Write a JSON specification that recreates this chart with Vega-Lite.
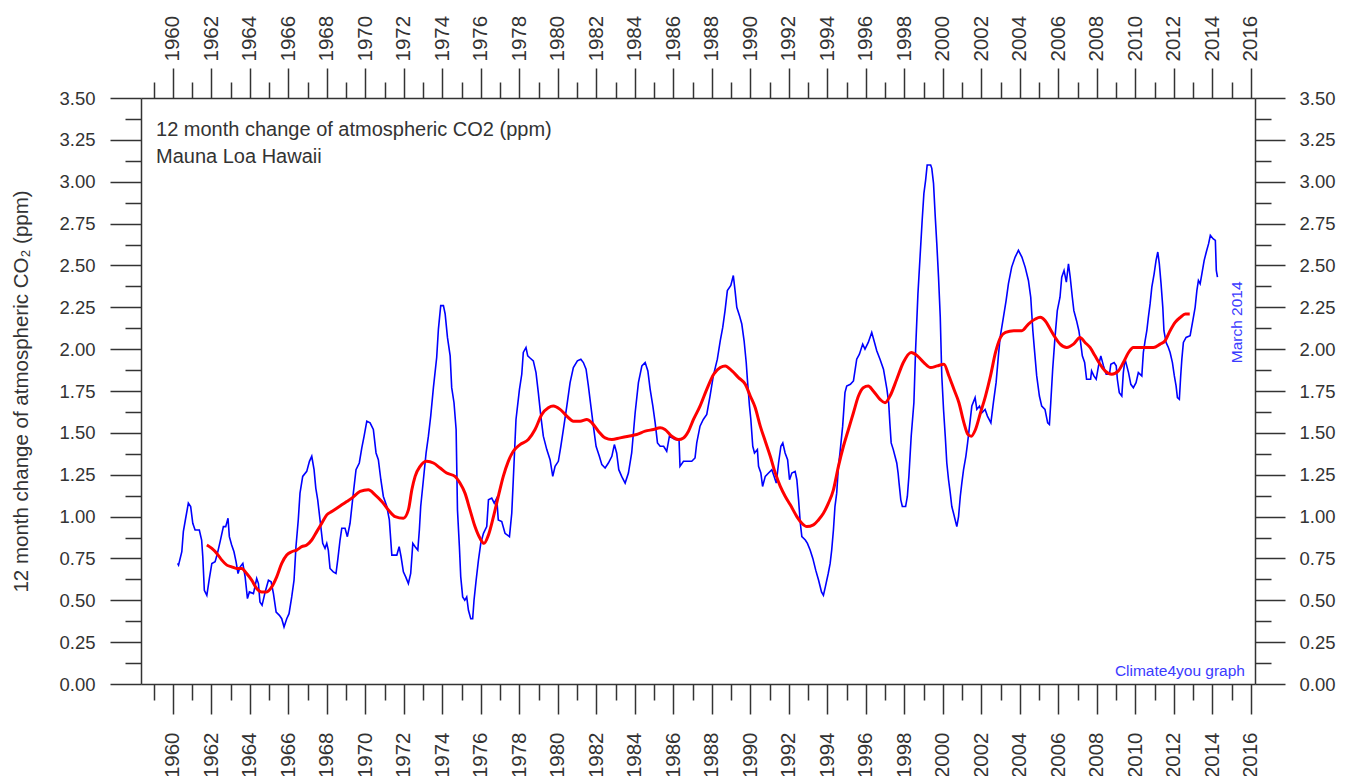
{
  "$schema": "https://vega.github.io/schema/vega-lite/v6.json",
  "width": 1114,
  "height": 586,
  "autosize": "none",
  "padding": {"left": 141, "top": 98, "right": 99, "bottom": 92},
  "background": "white",
  "config": {
    "view": {"stroke": null},
    "axis": {
      "grid": false,
      "domainColor": "#333333",
      "domainWidth": 1.5,
      "tickColor": "#333333",
      "tickWidth": 1.5,
      "labelColor": "#333333",
      "labelFont": "Liberation Sans",
      "titleFont": "Liberation Sans",
      "titleColor": "#333333",
      "titleFontWeight": "normal",
      "labelOverlap": false,
      "labelFlush": false,
      "labelBound": false
    }
  },
  "datasets": {
    "monthly": [
      {"year": 1960.25, "change": 0.72}, {"year": 1960.3, "change": 0.71}, {"year": 1960.47, "change": 0.79}, {"year": 1960.55, "change": 0.91},
      {"year": 1960.67, "change": 0.99}, {"year": 1960.81, "change": 1.08}, {"year": 1960.93, "change": 1.06}, {"year": 1961.04, "change": 0.96},
      {"year": 1961.16, "change": 0.92}, {"year": 1961.38, "change": 0.92}, {"year": 1961.5, "change": 0.86}, {"year": 1961.56, "change": 0.76},
      {"year": 1961.64, "change": 0.56}, {"year": 1961.77, "change": 0.53}, {"year": 1961.9, "change": 0.63}, {"year": 1962.03, "change": 0.72},
      {"year": 1962.2, "change": 0.73}, {"year": 1962.32, "change": 0.78}, {"year": 1962.46, "change": 0.85}, {"year": 1962.63, "change": 0.94},
      {"year": 1962.75, "change": 0.94}, {"year": 1962.87, "change": 0.99}, {"year": 1962.94, "change": 0.88}, {"year": 1963.06, "change": 0.83},
      {"year": 1963.18, "change": 0.79}, {"year": 1963.29, "change": 0.73}, {"year": 1963.39, "change": 0.66}, {"year": 1963.5, "change": 0.70},
      {"year": 1963.64, "change": 0.72}, {"year": 1963.76, "change": 0.64}, {"year": 1963.88, "change": 0.51}, {"year": 1963.98, "change": 0.55},
      {"year": 1964.19, "change": 0.54}, {"year": 1964.36, "change": 0.63}, {"year": 1964.45, "change": 0.60}, {"year": 1964.53, "change": 0.49},
      {"year": 1964.64, "change": 0.47}, {"year": 1964.8, "change": 0.55}, {"year": 1964.97, "change": 0.62}, {"year": 1965.11, "change": 0.61},
      {"year": 1965.23, "change": 0.54}, {"year": 1965.37, "change": 0.43}, {"year": 1965.54, "change": 0.41}, {"year": 1965.66, "change": 0.39},
      {"year": 1965.78, "change": 0.34}, {"year": 1965.92, "change": 0.39}, {"year": 1966.04, "change": 0.42}, {"year": 1966.18, "change": 0.52},
      {"year": 1966.3, "change": 0.62}, {"year": 1966.4, "change": 0.82}, {"year": 1966.52, "change": 0.98}, {"year": 1966.61, "change": 1.14},
      {"year": 1966.75, "change": 1.24}, {"year": 1966.96, "change": 1.27}, {"year": 1967.1, "change": 1.33}, {"year": 1967.22, "change": 1.36},
      {"year": 1967.34, "change": 1.28}, {"year": 1967.43, "change": 1.17}, {"year": 1967.53, "change": 1.10}, {"year": 1967.65, "change": 0.98},
      {"year": 1967.79, "change": 0.84}, {"year": 1967.91, "change": 0.81}, {"year": 1968.0, "change": 0.84}, {"year": 1968.08, "change": 0.80},
      {"year": 1968.17, "change": 0.69}, {"year": 1968.34, "change": 0.67}, {"year": 1968.48, "change": 0.66}, {"year": 1968.58, "change": 0.75},
      {"year": 1968.69, "change": 0.86}, {"year": 1968.78, "change": 0.93}, {"year": 1968.95, "change": 0.93}, {"year": 1969.07, "change": 0.88},
      {"year": 1969.21, "change": 0.96}, {"year": 1969.38, "change": 1.14}, {"year": 1969.52, "change": 1.28}, {"year": 1969.69, "change": 1.32},
      {"year": 1969.82, "change": 1.41}, {"year": 1969.94, "change": 1.48}, {"year": 1970.08, "change": 1.57}, {"year": 1970.25, "change": 1.56},
      {"year": 1970.42, "change": 1.52}, {"year": 1970.56, "change": 1.38}, {"year": 1970.68, "change": 1.34}, {"year": 1970.81, "change": 1.22},
      {"year": 1970.94, "change": 1.12}, {"year": 1971.12, "change": 1.06}, {"year": 1971.25, "change": 0.98}, {"year": 1971.38, "change": 0.77},
      {"year": 1971.64, "change": 0.77}, {"year": 1971.76, "change": 0.82}, {"year": 1971.86, "change": 0.76}, {"year": 1971.98, "change": 0.67},
      {"year": 1972.1, "change": 0.64}, {"year": 1972.24, "change": 0.60}, {"year": 1972.36, "change": 0.66}, {"year": 1972.47, "change": 0.84},
      {"year": 1972.59, "change": 0.82}, {"year": 1972.73, "change": 0.80}, {"year": 1972.81, "change": 0.92}, {"year": 1972.88, "change": 1.06},
      {"year": 1973.02, "change": 1.22}, {"year": 1973.16, "change": 1.38}, {"year": 1973.28, "change": 1.48}, {"year": 1973.4, "change": 1.60},
      {"year": 1973.54, "change": 1.77}, {"year": 1973.71, "change": 1.95}, {"year": 1973.8, "change": 2.12}, {"year": 1973.92, "change": 2.26},
      {"year": 1974.06, "change": 2.26}, {"year": 1974.15, "change": 2.21}, {"year": 1974.27, "change": 2.07}, {"year": 1974.41, "change": 1.96},
      {"year": 1974.49, "change": 1.77}, {"year": 1974.61, "change": 1.68}, {"year": 1974.72, "change": 1.52}, {"year": 1974.79, "change": 1.04},
      {"year": 1974.89, "change": 0.82}, {"year": 1974.96, "change": 0.64}, {"year": 1975.06, "change": 0.52}, {"year": 1975.17, "change": 0.50},
      {"year": 1975.27, "change": 0.52}, {"year": 1975.36, "change": 0.44}, {"year": 1975.48, "change": 0.39}, {"year": 1975.58, "change": 0.39},
      {"year": 1975.65, "change": 0.50}, {"year": 1975.76, "change": 0.62}, {"year": 1975.88, "change": 0.74}, {"year": 1976.0, "change": 0.84},
      {"year": 1976.14, "change": 0.90}, {"year": 1976.31, "change": 0.94}, {"year": 1976.4, "change": 1.10}, {"year": 1976.57, "change": 1.11},
      {"year": 1976.7, "change": 1.08}, {"year": 1976.83, "change": 1.11}, {"year": 1976.91, "change": 0.98}, {"year": 1977.09, "change": 0.97},
      {"year": 1977.26, "change": 0.90}, {"year": 1977.49, "change": 0.88}, {"year": 1977.61, "change": 1.02}, {"year": 1977.69, "change": 1.22},
      {"year": 1977.83, "change": 1.58}, {"year": 1978.01, "change": 1.76}, {"year": 1978.13, "change": 1.85}, {"year": 1978.21, "change": 1.98},
      {"year": 1978.35, "change": 2.01}, {"year": 1978.44, "change": 1.96}, {"year": 1978.53, "change": 1.95}, {"year": 1978.73, "change": 1.93},
      {"year": 1978.87, "change": 1.86}, {"year": 1978.99, "change": 1.74}, {"year": 1979.12, "change": 1.60}, {"year": 1979.25, "change": 1.48},
      {"year": 1979.43, "change": 1.40}, {"year": 1979.6, "change": 1.34}, {"year": 1979.74, "change": 1.24}, {"year": 1979.86, "change": 1.30},
      {"year": 1980.03, "change": 1.33}, {"year": 1980.16, "change": 1.42}, {"year": 1980.29, "change": 1.52}, {"year": 1980.47, "change": 1.66},
      {"year": 1980.64, "change": 1.80}, {"year": 1980.81, "change": 1.89}, {"year": 1981.02, "change": 1.93}, {"year": 1981.2, "change": 1.94},
      {"year": 1981.33, "change": 1.92}, {"year": 1981.47, "change": 1.88}, {"year": 1981.59, "change": 1.78}, {"year": 1981.72, "change": 1.66},
      {"year": 1981.85, "change": 1.54}, {"year": 1981.99, "change": 1.42}, {"year": 1982.16, "change": 1.36}, {"year": 1982.29, "change": 1.31},
      {"year": 1982.46, "change": 1.29}, {"year": 1982.63, "change": 1.32}, {"year": 1982.81, "change": 1.36}, {"year": 1982.94, "change": 1.43},
      {"year": 1983.06, "change": 1.38}, {"year": 1983.17, "change": 1.28}, {"year": 1983.32, "change": 1.24}, {"year": 1983.5, "change": 1.20},
      {"year": 1983.67, "change": 1.26}, {"year": 1983.84, "change": 1.38}, {"year": 1984.02, "change": 1.62}, {"year": 1984.19, "change": 1.80},
      {"year": 1984.37, "change": 1.90}, {"year": 1984.54, "change": 1.92}, {"year": 1984.68, "change": 1.87}, {"year": 1984.8, "change": 1.76},
      {"year": 1984.94, "change": 1.66}, {"year": 1985.06, "change": 1.56}, {"year": 1985.18, "change": 1.44}, {"year": 1985.32, "change": 1.42},
      {"year": 1985.5, "change": 1.42}, {"year": 1985.66, "change": 1.39}, {"year": 1985.8, "change": 1.48}, {"year": 1986.09, "change": 1.46},
      {"year": 1986.3, "change": 1.46}, {"year": 1986.35, "change": 1.30}, {"year": 1986.53, "change": 1.33}, {"year": 1986.96, "change": 1.33},
      {"year": 1987.13, "change": 1.35}, {"year": 1987.22, "change": 1.44}, {"year": 1987.39, "change": 1.54}, {"year": 1987.56, "change": 1.58},
      {"year": 1987.74, "change": 1.61}, {"year": 1987.91, "change": 1.72}, {"year": 1988.08, "change": 1.84}, {"year": 1988.29, "change": 1.94},
      {"year": 1988.44, "change": 2.05}, {"year": 1988.57, "change": 2.13}, {"year": 1988.69, "change": 2.23}, {"year": 1988.81, "change": 2.35},
      {"year": 1988.99, "change": 2.38}, {"year": 1989.12, "change": 2.44}, {"year": 1989.21, "change": 2.35}, {"year": 1989.3, "change": 2.25},
      {"year": 1989.44, "change": 2.20}, {"year": 1989.56, "change": 2.15}, {"year": 1989.68, "change": 2.05}, {"year": 1989.79, "change": 1.92},
      {"year": 1989.85, "change": 1.82}, {"year": 1989.96, "change": 1.66}, {"year": 1990.03, "change": 1.58}, {"year": 1990.13, "change": 1.42},
      {"year": 1990.22, "change": 1.38}, {"year": 1990.37, "change": 1.40}, {"year": 1990.43, "change": 1.30}, {"year": 1990.55, "change": 1.26},
      {"year": 1990.64, "change": 1.18}, {"year": 1990.78, "change": 1.24}, {"year": 1990.95, "change": 1.26}, {"year": 1991.12, "change": 1.28},
      {"year": 1991.24, "change": 1.24}, {"year": 1991.35, "change": 1.20}, {"year": 1991.47, "change": 1.32}, {"year": 1991.59, "change": 1.42},
      {"year": 1991.69, "change": 1.44}, {"year": 1991.81, "change": 1.38}, {"year": 1991.94, "change": 1.34}, {"year": 1992.04, "change": 1.22},
      {"year": 1992.16, "change": 1.26}, {"year": 1992.33, "change": 1.27}, {"year": 1992.42, "change": 1.22}, {"year": 1992.51, "change": 1.10},
      {"year": 1992.6, "change": 0.96}, {"year": 1992.68, "change": 0.88}, {"year": 1992.86, "change": 0.86}, {"year": 1992.97, "change": 0.84},
      {"year": 1993.11, "change": 0.80}, {"year": 1993.25, "change": 0.75}, {"year": 1993.4, "change": 0.68}, {"year": 1993.55, "change": 0.62},
      {"year": 1993.7, "change": 0.55}, {"year": 1993.8, "change": 0.53}, {"year": 1993.9, "change": 0.58}, {"year": 1994.05, "change": 0.66},
      {"year": 1994.15, "change": 0.72}, {"year": 1994.23, "change": 0.80}, {"year": 1994.32, "change": 0.92}, {"year": 1994.4, "change": 1.06},
      {"year": 1994.49, "change": 1.14}, {"year": 1994.58, "change": 1.30}, {"year": 1994.66, "change": 1.38}, {"year": 1994.8, "change": 1.54},
      {"year": 1994.92, "change": 1.74}, {"year": 1995.01, "change": 1.78}, {"year": 1995.2, "change": 1.79}, {"year": 1995.36, "change": 1.81},
      {"year": 1995.53, "change": 1.94}, {"year": 1995.67, "change": 1.97}, {"year": 1995.84, "change": 2.03}, {"year": 1995.96, "change": 2.00},
      {"year": 1996.13, "change": 2.04}, {"year": 1996.31, "change": 2.10}, {"year": 1996.43, "change": 2.05}, {"year": 1996.57, "change": 1.99},
      {"year": 1996.74, "change": 1.94}, {"year": 1996.92, "change": 1.88}, {"year": 1997.1, "change": 1.76}, {"year": 1997.19, "change": 1.68},
      {"year": 1997.25, "change": 1.56}, {"year": 1997.32, "change": 1.44}, {"year": 1997.43, "change": 1.40}, {"year": 1997.61, "change": 1.32},
      {"year": 1997.68, "change": 1.26}, {"year": 1997.73, "change": 1.20}, {"year": 1997.82, "change": 1.10}, {"year": 1997.9, "change": 1.06},
      {"year": 1998.07, "change": 1.06}, {"year": 1998.16, "change": 1.12}, {"year": 1998.24, "change": 1.24}, {"year": 1998.36, "change": 1.48},
      {"year": 1998.5, "change": 1.68}, {"year": 1998.59, "change": 2.00}, {"year": 1998.71, "change": 2.33}, {"year": 1998.84, "change": 2.59},
      {"year": 1998.93, "change": 2.77}, {"year": 1999.02, "change": 2.93}, {"year": 1999.11, "change": 3.01}, {"year": 1999.19, "change": 3.10},
      {"year": 1999.37, "change": 3.10}, {"year": 1999.43, "change": 3.08}, {"year": 1999.52, "change": 2.99}, {"year": 1999.61, "change": 2.79},
      {"year": 1999.69, "change": 2.63}, {"year": 1999.78, "change": 2.43}, {"year": 1999.87, "change": 2.19}, {"year": 1999.95, "change": 1.84},
      {"year": 2000.04, "change": 1.64}, {"year": 2000.13, "change": 1.48}, {"year": 2000.21, "change": 1.32}, {"year": 2000.3, "change": 1.22},
      {"year": 2000.39, "change": 1.14}, {"year": 2000.47, "change": 1.06}, {"year": 2000.56, "change": 1.02}, {"year": 2000.73, "change": 0.94},
      {"year": 2000.82, "change": 1.00}, {"year": 2000.91, "change": 1.12}, {"year": 2000.99, "change": 1.20}, {"year": 2001.08, "change": 1.28},
      {"year": 2001.2, "change": 1.36}, {"year": 2001.29, "change": 1.44}, {"year": 2001.39, "change": 1.54}, {"year": 2001.51, "change": 1.66},
      {"year": 2001.68, "change": 1.71}, {"year": 2001.77, "change": 1.64}, {"year": 2001.91, "change": 1.66}, {"year": 2002.03, "change": 1.62},
      {"year": 2002.2, "change": 1.64}, {"year": 2002.32, "change": 1.60}, {"year": 2002.5, "change": 1.56}, {"year": 2002.63, "change": 1.68},
      {"year": 2002.77, "change": 1.80}, {"year": 2002.89, "change": 1.96}, {"year": 2002.98, "change": 2.07}, {"year": 2003.15, "change": 2.19},
      {"year": 2003.29, "change": 2.29}, {"year": 2003.41, "change": 2.39}, {"year": 2003.58, "change": 2.49}, {"year": 2003.76, "change": 2.55},
      {"year": 2003.93, "change": 2.59}, {"year": 2004.11, "change": 2.55}, {"year": 2004.28, "change": 2.49}, {"year": 2004.45, "change": 2.41},
      {"year": 2004.57, "change": 2.31}, {"year": 2004.68, "change": 2.11}, {"year": 2004.76, "change": 2.00}, {"year": 2004.88, "change": 1.84},
      {"year": 2005.02, "change": 1.72}, {"year": 2005.14, "change": 1.66}, {"year": 2005.31, "change": 1.64}, {"year": 2005.45, "change": 1.56},
      {"year": 2005.54, "change": 1.55}, {"year": 2005.61, "change": 1.68}, {"year": 2005.71, "change": 1.88}, {"year": 2005.83, "change": 2.07},
      {"year": 2005.95, "change": 2.23}, {"year": 2006.09, "change": 2.31}, {"year": 2006.18, "change": 2.43}, {"year": 2006.3, "change": 2.47},
      {"year": 2006.42, "change": 2.40}, {"year": 2006.53, "change": 2.51}, {"year": 2006.62, "change": 2.43}, {"year": 2006.73, "change": 2.31},
      {"year": 2006.81, "change": 2.23}, {"year": 2006.95, "change": 2.17}, {"year": 2007.07, "change": 2.11}, {"year": 2007.16, "change": 2.04},
      {"year": 2007.25, "change": 1.96}, {"year": 2007.37, "change": 1.92}, {"year": 2007.47, "change": 1.82}, {"year": 2007.68, "change": 1.82},
      {"year": 2007.73, "change": 1.87}, {"year": 2007.85, "change": 1.84}, {"year": 2007.97, "change": 1.82}, {"year": 2008.09, "change": 1.90},
      {"year": 2008.21, "change": 1.96}, {"year": 2008.35, "change": 1.90}, {"year": 2008.49, "change": 1.85}, {"year": 2008.66, "change": 1.85},
      {"year": 2008.73, "change": 1.91}, {"year": 2008.9, "change": 1.92}, {"year": 2009.01, "change": 1.90}, {"year": 2009.07, "change": 1.82},
      {"year": 2009.17, "change": 1.74}, {"year": 2009.3, "change": 1.72}, {"year": 2009.38, "change": 1.86}, {"year": 2009.47, "change": 1.94},
      {"year": 2009.56, "change": 1.90}, {"year": 2009.65, "change": 1.86}, {"year": 2009.77, "change": 1.79}, {"year": 2009.9, "change": 1.77},
      {"year": 2010.04, "change": 1.80}, {"year": 2010.16, "change": 1.86}, {"year": 2010.34, "change": 1.84}, {"year": 2010.42, "change": 1.98},
      {"year": 2010.51, "change": 2.05}, {"year": 2010.6, "change": 2.11}, {"year": 2010.68, "change": 2.19}, {"year": 2010.77, "change": 2.27},
      {"year": 2010.86, "change": 2.37}, {"year": 2010.98, "change": 2.45}, {"year": 2011.08, "change": 2.53}, {"year": 2011.17, "change": 2.58},
      {"year": 2011.25, "change": 2.51}, {"year": 2011.34, "change": 2.39}, {"year": 2011.43, "change": 2.25}, {"year": 2011.49, "change": 2.11},
      {"year": 2011.6, "change": 2.04}, {"year": 2011.72, "change": 2.01}, {"year": 2011.81, "change": 1.98}, {"year": 2011.93, "change": 1.92},
      {"year": 2012.03, "change": 1.84}, {"year": 2012.12, "change": 1.78}, {"year": 2012.19, "change": 1.71}, {"year": 2012.29, "change": 1.70},
      {"year": 2012.36, "change": 1.84}, {"year": 2012.42, "change": 1.94}, {"year": 2012.5, "change": 2.04}, {"year": 2012.64, "change": 2.07},
      {"year": 2012.85, "change": 2.08}, {"year": 2012.99, "change": 2.17}, {"year": 2013.11, "change": 2.25}, {"year": 2013.2, "change": 2.35},
      {"year": 2013.28, "change": 2.41}, {"year": 2013.37, "change": 2.39}, {"year": 2013.46, "change": 2.45}, {"year": 2013.58, "change": 2.53},
      {"year": 2013.69, "change": 2.58}, {"year": 2013.81, "change": 2.63}, {"year": 2013.9, "change": 2.68}, {"year": 2014.04, "change": 2.66},
      {"year": 2014.16, "change": 2.65}, {"year": 2014.21, "change": 2.47}, {"year": 2014.27, "change": 2.43}
    ],
    "smooth": [
      {"year": 1961.77, "change": 0.83}, {"year": 1962.03, "change": 0.81}, {"year": 1962.29, "change": 0.78}, {"year": 1962.55, "change": 0.74},
      {"year": 1962.81, "change": 0.71}, {"year": 1963.06, "change": 0.70}, {"year": 1963.32, "change": 0.69}, {"year": 1963.58, "change": 0.69},
      {"year": 1963.84, "change": 0.66}, {"year": 1964.1, "change": 0.62}, {"year": 1964.36, "change": 0.57}, {"year": 1964.62, "change": 0.55},
      {"year": 1964.88, "change": 0.55}, {"year": 1965.14, "change": 0.58}, {"year": 1965.4, "change": 0.64}, {"year": 1965.66, "change": 0.72},
      {"year": 1965.92, "change": 0.77}, {"year": 1966.18, "change": 0.79}, {"year": 1966.44, "change": 0.80}, {"year": 1966.7, "change": 0.82},
      {"year": 1966.96, "change": 0.83}, {"year": 1967.22, "change": 0.86}, {"year": 1967.48, "change": 0.91}, {"year": 1967.74, "change": 0.96},
      {"year": 1968.0, "change": 1.01}, {"year": 1968.26, "change": 1.03}, {"year": 1968.52, "change": 1.05}, {"year": 1968.78, "change": 1.07},
      {"year": 1969.04, "change": 1.09}, {"year": 1969.3, "change": 1.11}, {"year": 1969.73, "change": 1.15}, {"year": 1970.16, "change": 1.16},
      {"year": 1970.51, "change": 1.13}, {"year": 1970.86, "change": 1.09}, {"year": 1971.2, "change": 1.04}, {"year": 1971.55, "change": 1.00},
      {"year": 1971.98, "change": 0.99}, {"year": 1972.24, "change": 1.04}, {"year": 1972.42, "change": 1.16}, {"year": 1972.59, "change": 1.24},
      {"year": 1972.85, "change": 1.30}, {"year": 1973.19, "change": 1.33}, {"year": 1973.54, "change": 1.32}, {"year": 1973.89, "change": 1.29},
      {"year": 1974.23, "change": 1.26}, {"year": 1974.66, "change": 1.24}, {"year": 1974.92, "change": 1.20}, {"year": 1975.18, "change": 1.14},
      {"year": 1975.44, "change": 1.04}, {"year": 1975.7, "change": 0.94}, {"year": 1975.96, "change": 0.87}, {"year": 1976.17, "change": 0.84},
      {"year": 1976.4, "change": 0.89}, {"year": 1976.66, "change": 1.00}, {"year": 1976.91, "change": 1.12}, {"year": 1977.17, "change": 1.24},
      {"year": 1977.43, "change": 1.33}, {"year": 1977.69, "change": 1.39}, {"year": 1978.04, "change": 1.43}, {"year": 1978.47, "change": 1.46},
      {"year": 1978.82, "change": 1.52}, {"year": 1979.17, "change": 1.61}, {"year": 1979.51, "change": 1.65}, {"year": 1979.77, "change": 1.66},
      {"year": 1980.12, "change": 1.64}, {"year": 1980.47, "change": 1.60}, {"year": 1980.81, "change": 1.57}, {"year": 1981.16, "change": 1.57},
      {"year": 1981.51, "change": 1.58}, {"year": 1981.77, "change": 1.56}, {"year": 1982.11, "change": 1.51}, {"year": 1982.46, "change": 1.47},
      {"year": 1982.81, "change": 1.46}, {"year": 1983.24, "change": 1.47}, {"year": 1983.67, "change": 1.48}, {"year": 1984.1, "change": 1.49},
      {"year": 1984.54, "change": 1.51}, {"year": 1984.97, "change": 1.52}, {"year": 1985.32, "change": 1.53}, {"year": 1985.57, "change": 1.52},
      {"year": 1985.92, "change": 1.48}, {"year": 1986.27, "change": 1.46}, {"year": 1986.53, "change": 1.47}, {"year": 1986.79, "change": 1.51},
      {"year": 1987.05, "change": 1.58}, {"year": 1987.39, "change": 1.66}, {"year": 1987.74, "change": 1.76}, {"year": 1988.1, "change": 1.85},
      {"year": 1988.44, "change": 1.89}, {"year": 1988.7, "change": 1.90}, {"year": 1989.05, "change": 1.87}, {"year": 1989.39, "change": 1.83},
      {"year": 1989.74, "change": 1.79}, {"year": 1990.0, "change": 1.72}, {"year": 1990.26, "change": 1.65}, {"year": 1990.52, "change": 1.54},
      {"year": 1990.78, "change": 1.45}, {"year": 1991.04, "change": 1.36}, {"year": 1991.3, "change": 1.26}, {"year": 1991.56, "change": 1.18},
      {"year": 1991.82, "change": 1.12}, {"year": 1992.08, "change": 1.07}, {"year": 1992.42, "change": 1.00}, {"year": 1992.68, "change": 0.96},
      {"year": 1992.94, "change": 0.94}, {"year": 1993.28, "change": 0.95}, {"year": 1993.54, "change": 0.98}, {"year": 1993.8, "change": 1.02},
      {"year": 1994.06, "change": 1.08}, {"year": 1994.32, "change": 1.16}, {"year": 1994.58, "change": 1.30}, {"year": 1994.84, "change": 1.42},
      {"year": 1995.1, "change": 1.52}, {"year": 1995.36, "change": 1.62}, {"year": 1995.62, "change": 1.72}, {"year": 1995.87, "change": 1.77},
      {"year": 1996.13, "change": 1.78}, {"year": 1996.39, "change": 1.75}, {"year": 1996.74, "change": 1.70}, {"year": 1997.0, "change": 1.68},
      {"year": 1997.26, "change": 1.72}, {"year": 1997.61, "change": 1.82}, {"year": 1997.95, "change": 1.92}, {"year": 1998.36, "change": 1.98},
      {"year": 1998.68, "change": 1.96}, {"year": 1999.02, "change": 1.92}, {"year": 1999.37, "change": 1.89}, {"year": 1999.71, "change": 1.90},
      {"year": 2000.06, "change": 1.91}, {"year": 2000.32, "change": 1.84}, {"year": 2000.58, "change": 1.76}, {"year": 2000.84, "change": 1.68},
      {"year": 2001.1, "change": 1.56}, {"year": 2001.31, "change": 1.49}, {"year": 2001.48, "change": 1.48}, {"year": 2001.7, "change": 1.52},
      {"year": 2001.96, "change": 1.62}, {"year": 2002.22, "change": 1.72}, {"year": 2002.48, "change": 1.84}, {"year": 2002.74, "change": 1.98},
      {"year": 2003.0, "change": 2.07}, {"year": 2003.26, "change": 2.10}, {"year": 2003.69, "change": 2.11}, {"year": 2004.11, "change": 2.11},
      {"year": 2004.45, "change": 2.15}, {"year": 2004.81, "change": 2.18}, {"year": 2005.06, "change": 2.19}, {"year": 2005.32, "change": 2.17},
      {"year": 2005.58, "change": 2.12}, {"year": 2005.84, "change": 2.07}, {"year": 2006.1, "change": 2.03}, {"year": 2006.44, "change": 2.01},
      {"year": 2006.79, "change": 2.03}, {"year": 2007.13, "change": 2.07}, {"year": 2007.39, "change": 2.04}, {"year": 2007.65, "change": 2.01},
      {"year": 2007.91, "change": 1.96}, {"year": 2008.17, "change": 1.91}, {"year": 2008.43, "change": 1.87}, {"year": 2008.78, "change": 1.85},
      {"year": 2009.12, "change": 1.87}, {"year": 2009.38, "change": 1.92}, {"year": 2009.65, "change": 1.98}, {"year": 2009.9, "change": 2.01},
      {"year": 2010.25, "change": 2.01}, {"year": 2010.6, "change": 2.01}, {"year": 2010.94, "change": 2.01}, {"year": 2011.29, "change": 2.03},
      {"year": 2011.55, "change": 2.05}, {"year": 2011.81, "change": 2.11}, {"year": 2012.07, "change": 2.16}, {"year": 2012.34, "change": 2.19},
      {"year": 2012.6, "change": 2.21}, {"year": 2012.83, "change": 2.21}
    ]
  },
  "layer": [
    {
      "data": {"name": "monthly"},
      "mark": {"type": "line", "color": "#0000ff", "strokeWidth": 1.6, "opacity": 0},
      "encoding": {
        "x": {"field": "year", "type": "quantitative",
          "scale": {"domain": [1958.35, 2016.22], "nice": false, "zero": false},
          "axis": {"orient": "bottom", "values": [1959,1961,1963,1965,1967,1969,1971,1973,1975,1977,1979,1981,1983,1985,1987,1989,1991,1993,1995,1997,1999,2001,2003,2005,2007,2009,2011,2013,2015],
            "labels": false, "domain": false, "tickSize": 16, "title": null}},
        "y": {"field": "change", "type": "quantitative",
          "scale": {"domain": [0, 3.5], "nice": false, "zero": false},
          "axis": {"orient": "left", "values": [0.125,0.375,0.625,0.875,1.125,1.375,1.625,1.875,2.125,2.375,2.625,2.875,3.125,3.375],
            "labels": false, "domain": false, "tickSize": 16, "title": null}}
      }
    },
    {
      "data": {"name": "monthly"},
      "mark": {"type": "line", "color": "#0000ff", "strokeWidth": 1.6, "opacity": 0},
      "encoding": {
        "x": {"field": "year", "type": "quantitative",
          "scale": {"domain": [1958.35, 2016.22], "nice": false, "zero": false},
          "axis": {"orient": "top", "values": [1959,1961,1963,1965,1967,1969,1971,1973,1975,1977,1979,1981,1983,1985,1987,1989,1991,1993,1995,1997,1999,2001,2003,2005,2007,2009,2011,2013,2015],
            "labels": false, "domain": false, "tickSize": 16, "title": null}},
        "y": {"field": "change", "type": "quantitative",
          "scale": {"domain": [0, 3.5], "nice": false, "zero": false},
          "axis": {"orient": "right", "values": [0.125,0.375,0.625,0.875,1.125,1.375,1.625,1.875,2.125,2.375,2.625,2.875,3.125,3.375],
            "labels": false, "domain": false, "tickSize": 16, "title": null}}
      }
    },
    {
      "data": {"name": "monthly"},
      "mark": {"type": "line", "color": "#0000ff", "strokeWidth": 1.6, "interpolate": "linear"},
      "encoding": {
        "x": {"field": "year", "type": "quantitative",
          "scale": {"domain": [1958.35, 2016.22], "nice": false, "zero": false},
          "axis": {"orient": "bottom", "values": [1960,1962,1964,1966,1968,1970,1972,1974,1976,1978,1980,1982,1984,1986,1988,1990,1992,1994,1996,1998,2000,2002,2004,2006,2008,2010,2012,2014,2016],
            "format": "d", "labelAngle": -90, "labelFontSize": 20.5, "labelPadding": 18, "tickSize": 30, "title": null}},
        "y": {"field": "change", "type": "quantitative",
          "scale": {"domain": [0, 3.5], "nice": false, "zero": false},
          "axis": {"orient": "left", "values": [0,0.25,0.5,0.75,1,1.25,1.5,1.75,2,2.25,2.5,2.75,3,3.25,3.5],
            "format": ".2f", "labelFontSize": 18.5, "labelPadding": 15, "tickSize": 31,
            "title": "12 month change of atmospheric CO₂ (ppm)", "titleFontSize": 20.5, "titlePadding": 27}}
      }
    },
    {
      "data": {"name": "smooth"},
      "mark": {"type": "line", "color": "#ff0000", "strokeWidth": 3, "interpolate": "monotone"},
      "encoding": {
        "x": {"field": "year", "type": "quantitative",
          "scale": {"domain": [1958.35, 2016.22], "nice": false, "zero": false},
          "axis": {"orient": "top", "values": [1960,1962,1964,1966,1968,1970,1972,1974,1976,1978,1980,1982,1984,1986,1988,1990,1992,1994,1996,1998,2000,2002,2004,2006,2008,2010,2012,2014,2016],
            "format": "d", "labelAngle": -90, "labelFontSize": 20.5, "labelPadding": 7, "tickSize": 30, "title": null}},
        "y": {"field": "change", "type": "quantitative",
          "scale": {"domain": [0, 3.5], "nice": false, "zero": false},
          "axis": {"orient": "right", "values": [0,0.25,0.5,0.75,1,1.25,1.5,1.75,2,2.25,2.5,2.75,3,3.25,3.5],
            "format": ".2f", "labelFontSize": 18.5, "labelPadding": 14, "tickSize": 30, "title": null}}
      }
    },
    {
      "data": {"values": [{"label": ["12 month change of atmospheric CO2 (ppm)", "Mauna Loa Hawaii"]}]},
      "mark": {"type": "text", "align": "left", "baseline": "alphabetic", "font": "Liberation Sans", "fontSize": 20, "lineHeight": 27.5, "color": "#333333"},
      "encoding": {
        "x": {"datum": 1959.13, "type": "quantitative", "scale": {"domain": [1958.35, 2016.22], "nice": false, "zero": false}, "axis": null},
        "y": {"datum": 3.274, "type": "quantitative", "scale": {"domain": [0, 3.5], "nice": false, "zero": false}, "axis": null},
        "text": {"field": "label"}
      }
    },
    {
      "data": {"values": [{"label": "March 2014"}]},
      "mark": {"type": "text", "align": "center", "baseline": "middle", "angle": 270, "font": "Liberation Sans", "fontSize": 15.5, "color": "#3b3bff"},
      "encoding": {
        "x": {"datum": 2015.29, "type": "quantitative", "scale": {"domain": [1958.35, 2016.22], "nice": false, "zero": false}, "axis": null},
        "y": {"datum": 2.16, "type": "quantitative", "scale": {"domain": [0, 3.5], "nice": false, "zero": false}, "axis": null},
        "text": {"field": "label"}
      }
    },
    {
      "data": {"values": [{"label": "Climate4you graph"}]},
      "mark": {"type": "text", "align": "right", "baseline": "alphabetic", "font": "Liberation Sans", "fontSize": 15.5, "color": "#3b3bff"},
      "encoding": {
        "x": {"datum": 2015.7, "type": "quantitative", "scale": {"domain": [1958.35, 2016.22], "nice": false, "zero": false}, "axis": null},
        "y": {"datum": 0.048, "type": "quantitative", "scale": {"domain": [0, 3.5], "nice": false, "zero": false}, "axis": null},
        "text": {"field": "label"}
      }
    }
  ],
  "resolve": {"scale": {"x": "independent", "y": "independent"}}
}
